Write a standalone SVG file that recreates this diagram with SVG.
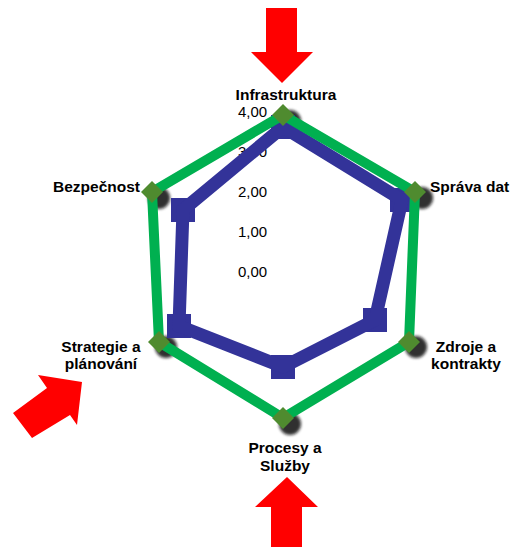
<svg xmlns="http://www.w3.org/2000/svg" width="513" height="547" viewBox="0 0 513 547">
<style>
.cat{font-family:"Liberation Sans",Arial,sans-serif;font-weight:bold;font-size:15.5px;fill:#000}
.ax{font-family:"Liberation Sans",Arial,sans-serif;font-size:15px;fill:#000}
.arrow{fill:#ff0000}
.blue{fill:none;stroke:#333399;stroke-width:13;stroke-linejoin:miter}
.green{fill:none;stroke:#00b050;stroke-width:10;stroke-linejoin:miter}
.sq{fill:#333399}
.dm{fill:#4f8b2f}
.sh{fill:#111;opacity:0.85}
</style>
<defs>
<filter id="blur" x="-50%" y="-50%" width="200%" height="200%"><feGaussianBlur stdDeviation="1.6"/></filter>
<rect id="square" x="-12" y="-12" width="24" height="24" class="sq"/>
<polygon id="diamond" points="0,-11 11,0 0,11 -11,0" class="dm"/>
<circle id="shadow" r="11" class="sh" filter="url(#blur)"/>
</defs>
<g id="arrows">
<polygon class="arrow" points="266,8 297,8 297,52 313,52 282,83 251,52 266,52"/>
<polygon class="arrow" points="287,477 318,507 302,507 302,547 271,547 271,507 255,507"/>
<polygon class="arrow" points="82,382 77,425 70,415 32,438 13,413 47,388 38,375"/>
</g>
<g id="axis-labels">
<text class="ax" x="238" y="117">4,00</text>
<text class="ax" x="238" y="157">3,00</text>
<text class="ax" x="238" y="197">2,00</text>
<text class="ax" x="238" y="237">1,00</text>
<text class="ax" x="238" y="277">0,00</text>
</g>
<g id="shadows">
<use href="#shadow" x="290" y="121"/>
<use href="#shadow" x="422" y="198"/>
<use href="#shadow" x="416" y="347"/>
<use href="#shadow" x="290" y="424"/>
<use href="#shadow" x="166" y="347"/>
<use href="#shadow" x="159" y="198"/>
</g>
<g id="series-blue">
<use href="#square" x="283" y="127"/>
<use href="#square" x="402" y="200"/>
<use href="#square" x="375" y="320"/>
<use href="#square" x="283" y="367"/>
<use href="#square" x="179" y="326"/>
<use href="#square" x="183" y="210"/>
</g>
<g id="connectors">
<polygon class="blue" points="283,127 402,200 375,320 283,367 179,326 183,210"/>
<polygon class="green" points="283,115 415,192 409,342 283,418 159,342 152,192"/>
</g>
<g id="series-green">
<use href="#diamond" x="283" y="115"/>
<use href="#diamond" x="415" y="192"/>
<use href="#diamond" x="409" y="342"/>
<use href="#diamond" x="283" y="418"/>
<use href="#diamond" x="159" y="342"/>
<use href="#diamond" x="152" y="192"/>
</g>
<g id="node-infrastruktura"><text class="cat" x="286" y="100" text-anchor="middle">Infrastruktura</text></g>
<g id="node-sprava"><text class="cat" x="430" y="192">Správa dat</text></g>
<g id="node-zdroje"><text class="cat" x="466" y="352" text-anchor="middle">Zdroje a</text><text class="cat" x="466" y="369" text-anchor="middle">kontrakty</text></g>
<g id="node-procesy"><text class="cat" x="285" y="453" text-anchor="middle">Procesy a</text><text class="cat" x="285" y="471" text-anchor="middle">Služby</text></g>
<g id="node-strategie"><text class="cat" x="101" y="352" text-anchor="middle">Strategie a</text><text class="cat" x="101" y="369" text-anchor="middle">plánování</text></g>
<g id="node-bezpecnost"><text class="cat" x="140" y="192" text-anchor="end">Bezpečnost</text></g>
</svg>
